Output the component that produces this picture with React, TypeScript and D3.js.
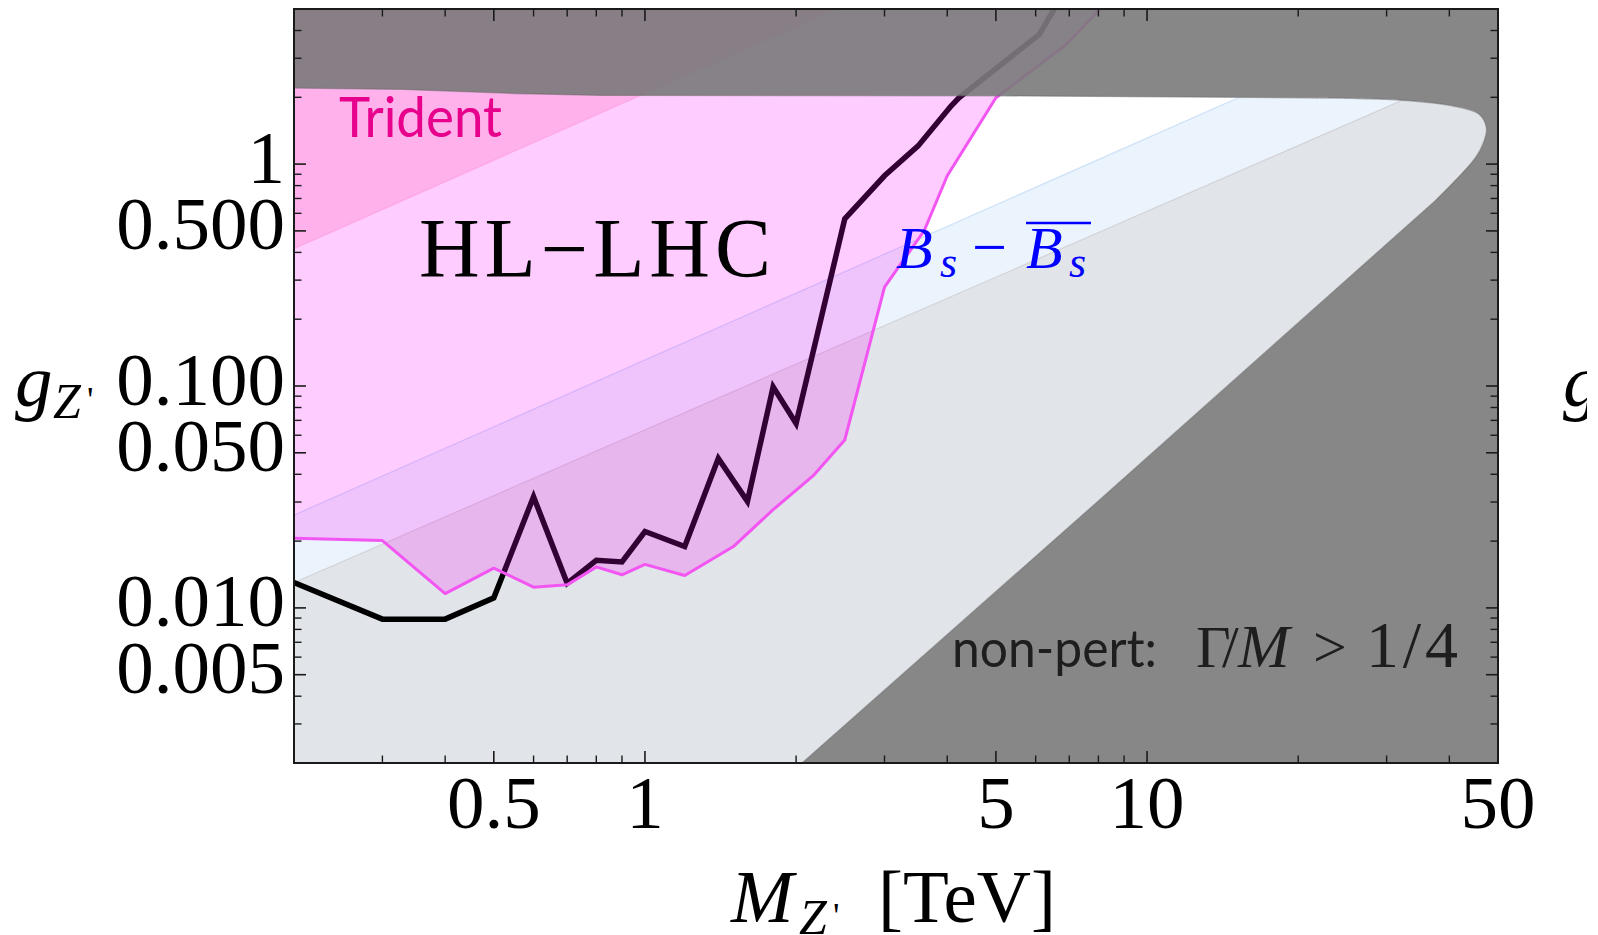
import React from "react";
import * as d3 from "d3";

// ---------- axes ----------
const X_DOMAIN: [number, number] = [0.2, 50];
const Y_DOMAIN: [number, number] = [0.002, 5];
const X_MAJOR_TICKS = [0.5, 1, 5, 10, 50];
const X_TICK_LABELS = ["0.5", "1", "5", "10", "50"];
const X_MINOR_TICKS = [0.3, 0.4, 0.6, 0.7, 0.8, 0.9, 2, 3, 4, 6, 7, 8, 9, 20, 30, 40];
const Y_MAJOR_TICKS = [0.005, 0.01, 0.05, 0.1, 0.5, 1];
const Y_TICK_LABELS = ["0.005", "0.010", "0.050", "0.100", "0.500", "1"];
const Y_MINOR_TICKS = [0.003, 0.004, 0.006, 0.007, 0.008, 0.009, 0.02, 0.03, 0.04, 0.06, 0.07, 0.08, 0.09, 0.2, 0.3, 0.4, 0.6, 0.7, 0.8, 0.9, 2, 3, 4];

// ---------- HL-LHC projected reach (black line) ----------
const HLLHC_M = [0.2, 0.3, 0.4, 0.5, 0.6, 0.7, 0.8, 0.9, 1.0, 1.2, 1.4, 1.6, 1.8, 2.0, 2.5, 3.0, 3.5, 4.07, 4.22, 6.1, 6.7];
const HLLHC_G = [0.013, 0.0089, 0.0089, 0.0111, 0.0317, 0.0129, 0.0164, 0.0161, 0.0221, 0.0189, 0.0472, 0.0302, 0.0991, 0.0678, 0.566, 0.886, 1.208, 1.828, 1.99, 3.84, 5.5];

// ---------- current LHC exclusion (magenta line, pink fill) ----------
const LHC_M = [0.2, 0.3, 0.4, 0.5, 0.6, 0.7, 0.8, 0.9, 1.0, 1.2, 1.5, 1.8, 2.17, 2.5, 3.0, 3.6, 4.0, 5.0, 6.9, 8.4];
const LHC_G = [0.0206, 0.0201, 0.0116, 0.0151, 0.0124, 0.0127, 0.0153, 0.0141, 0.0157, 0.014, 0.0189, 0.0277, 0.0397, 0.0571, 0.279, 0.502, 0.886, 1.99, 3.46, 5.5];

// ---------- Trident exclusion ----------
const TRIDENT_M = [0.2, 2.4];
const TRIDENT_G = [0.416, 5.0];

// ---------- Bs mixing band ----------
const BS_LOWER_M = [0.2, 40];
const BS_LOWER_G = [0.013, 2.4];
const BS_UPPER_M = [0.2, 40];
const BS_UPPER_G = [0.0262, 5.24];

// ---------- perturbativity boundary (Gamma/M = 1/4) ----------
const PERT_TOP_M = [0.15, 0.2, 0.33, 0.55, 0.82, 5.1, 20.3];
const PERT_TOP_G = [2.2, 2.2, 2.17, 2.08, 2.04, 2.03, 1.99];
const PERT_CAP_M = [20.3, 32.2, 40.5, 45.8, 47.4, 46.9, 45.1, 37.5];
const PERT_CAP_G = [1.99, 1.94, 1.83, 1.68, 1.46, 1.27, 1.07, 0.684];
const PERT_DIAG_M = [37.5, 8.11, 1.85];
const PERT_DIAG_G = [0.684, 0.0312, 0.00162];

const SERIF = "'Liberation Serif', 'Times New Roman', serif";
const SANS = "Lato, 'DejaVu Sans', sans-serif";

export default function App() {
  const W = 1598, H = 935;
  const left = 294, right = 1498, top = 9, bottom = 763;
  const x = d3.scaleLog().domain(X_DOMAIN).range([left, right]);
  const y = d3.scaleLog().domain(Y_DOMAIN).range([bottom, top]);
  const P = (ms: number[], gs: number[]) => ms.map((m, i) => [x(m), y(gs[i])] as [number, number]);
  const lin = d3.line();
  const smooth = d3.line().curve(d3.curveCatmullRom.alpha(0.5));
  const cont = (s: string | null) => (s || "").replace(/^M/, "L");

  const xl = left - 30, xr = right + 30, yt = top - 30, yb = bottom + 30;

  const hl = P(HLLHC_M, HLLHC_G);
  const lhc = P(LHC_M, LHC_G);
  const lhcFill = lin([...lhc, [lhc[lhc.length - 1][0], yt], [xl, yt], [xl, lhc[0][1]]]) + "Z";

  const tri = P(TRIDENT_M, TRIDENT_G);
  const triFill = lin([[xl, tri[0][1]], ...tri, [tri[1][0], yt], [xl, yt]]) + "Z";

  const bsU = P(BS_UPPER_M, BS_UPPER_G);
  const bsL = P(BS_LOWER_M, BS_LOWER_G);
  const blueFill = lin([[xl, bsU[0][1]], ...bsU, [xr, bsU[1][1]], [xr, yb], [xl, yb]]) + "Z";
  const grayFill = lin([[xl, bsL[0][1]], ...bsL, [xr, bsL[1][1]], [xr, yb], [xl, yb]]) + "Z";

  const topPts = P(PERT_TOP_M, PERT_TOP_G);
  const capPts = P(PERT_CAP_M, PERT_CAP_G);
  const diagPts = P(PERT_DIAG_M, PERT_DIAG_G);
  const edge = (lin(topPts) || "") + cont(smooth(capPts)) + cont(lin(diagPts));
  const tongue = edge + `L${topPts[0][0]},${diagPts[diagPts.length - 1][1]}Z`;
  const rectPath = `M${left},${top}H${right}V${bottom}H${left}Z`;

  const tickStroke = "#1a1a1a";
  const majorLen = 12, minorLen = 7.5;

  return (
    <svg width={W} height={H} style={{ position: "absolute", left: 0, top: 0, background: "#fff" }}>
      <defs>
        <clipPath id="plotClip">
          <rect x={left} y={top} width={right - left} height={bottom - top} />
        </clipPath>
        <clipPath id="tongueClip">
          <path d={tongue} />
        </clipPath>
        <clipPath id="pageClip">
          <rect x={0} y={0} width={1587} height={H} />
        </clipPath>
      </defs>
      <rect x={0} y={0} width={W} height={H} fill="#fff" />

      <g clipPath="url(#plotClip)">
        <g clipPath="url(#tongueClip)">
          <path d={blueFill} fill="#ebf4fc" />
          <path d={grayFill} fill="#e1e4e8" />
          <path d={lin(bsU) || ""} fill="none" stroke="rgba(175,205,245,0.55)" strokeWidth={1.2} />
          <path d={lin(bsL) || ""} fill="none" stroke="rgba(170,150,150,0.3)" strokeWidth={1.1} />
        </g>
        {/* HL-LHC black line */}
        <path d={lin(hl) || ""} fill="none" stroke="#000" strokeWidth={5.5} strokeLinejoin="miter" strokeMiterlimit={10} />
        {/* current LHC exclusion fill */}
        <path d={lhcFill} fill="#ff00ff" fillOpacity={0.2} />
        {/* Trident */}
        <path d={triFill} fill="rgb(255,80,170)" fillOpacity={0.22} />
        <path d={lin(tri) || ""} fill="none" stroke="rgba(255,120,195,0.35)" strokeWidth={1.1} />
        {/* magenta line */}
        <path d={lin(lhc) || ""} fill="none" stroke="#f255f2" strokeWidth={3} strokeLinejoin="round" />
        {/* non-perturbative region */}
        <path d={rectPath + tongue} fill="rgb(122,122,122)" fillOpacity={0.9} fillRule="evenodd" />
        <path d={edge} fill="none" stroke="rgba(100,100,100,0.45)" strokeWidth={1.3} />
      </g>

      {/* frame */}
      <rect x={left} y={top} width={right - left} height={bottom - top} fill="none" stroke={tickStroke} strokeWidth={2} />

      {/* x ticks */}
      {X_MAJOR_TICKS.map((v) => (
        <g key={"xM" + v}>
          <line x1={x(v)} x2={x(v)} y1={bottom} y2={bottom - majorLen} stroke={tickStroke} strokeWidth={1.6} />
          <line x1={x(v)} x2={x(v)} y1={top} y2={top + majorLen} stroke={tickStroke} strokeWidth={1.6} />
        </g>
      ))}
      {X_MINOR_TICKS.map((v) => (
        <g key={"xm" + v}>
          <line x1={x(v)} x2={x(v)} y1={bottom} y2={bottom - minorLen} stroke={tickStroke} strokeWidth={1.4} />
          <line x1={x(v)} x2={x(v)} y1={top} y2={top + minorLen} stroke={tickStroke} strokeWidth={1.4} />
        </g>
      ))}
      {/* y ticks */}
      {Y_MAJOR_TICKS.map((v) => (
        <g key={"yM" + v}>
          <line x1={left} x2={left + majorLen} y1={y(v)} y2={y(v)} stroke={tickStroke} strokeWidth={1.6} />
          <line x1={right} x2={right - majorLen} y1={y(v)} y2={y(v)} stroke={tickStroke} strokeWidth={1.6} />
        </g>
      ))}
      {Y_MINOR_TICKS.map((v) => (
        <g key={"ym" + v}>
          <line x1={left} x2={left + minorLen} y1={y(v)} y2={y(v)} stroke={tickStroke} strokeWidth={1.4} />
          <line x1={right} x2={right - minorLen} y1={y(v)} y2={y(v)} stroke={tickStroke} strokeWidth={1.4} />
        </g>
      ))}

      {/* tick labels */}
      {X_MAJOR_TICKS.map((v, i) => (
        <text key={"xl" + v} x={x(v)} y={828} textAnchor="middle" fontFamily={SERIF} fontSize={75} fill="#000">
          {X_TICK_LABELS[i]}
        </text>
      ))}
      {Y_MAJOR_TICKS.map((v, i) => (
        <text key={"yl" + v} x={left - 9} y={y(v) + 18.5} textAnchor="end" fontFamily={SERIF} fontSize={75} fill="#000">
          {Y_TICK_LABELS[i]}
        </text>
      ))}

      {/* axis titles */}
      <text x={15} y={406} fontFamily={SERIF} fontStyle="italic" fontSize={75} fill="#000">g</text>
      <text x={53} y={418} fontFamily={SERIF} fontStyle="italic" fontSize={50} fill="#000">Z</text>
      <text x={87} y={412} fontFamily={SERIF} fontSize={36} fill="#000">'</text>

      <text x={731} y={922} fontFamily={SERIF} fontStyle="italic" fontSize={75} fill="#000">M</text>
      <text x={799} y={934} fontFamily={SERIF} fontStyle="italic" fontSize={50} fill="#000">Z</text>
      <text x={833} y={928} fontFamily={SERIF} fontSize={36} fill="#000">'</text>
      <text x={878} y={922} fontFamily={SERIF} fontSize={75} fill="#000">[TeV]</text>

      {/* region labels */}
      <text x={339} y={137} fontFamily={SANS} fontSize={57} fill="rgb(230,0,140)" textLength={163} lengthAdjust="spacingAndGlyphs">Trident</text>
      <text x={419} y={277} fontFamily={SERIF} fontSize={84} fill="#000" textLength={352}>HL−LHC</text>

      <text x={896} y={268} fontFamily={SERIF} fontStyle="italic" fontSize={60} fill="#0000ff">B</text>
      <text x={940} y={277} fontFamily={SERIF} fontStyle="italic" fontSize={44} fill="#0000ff">s</text>
      <text x={972} y={268} fontFamily={SERIF} fontSize={62} fill="#0000ff">−</text>
      <text x={1026} y={268} fontFamily={SERIF} fontStyle="italic" fontSize={60} fill="#0000ff">B</text>
      <text x={1069} y={277} fontFamily={SERIF} fontStyle="italic" fontSize={44} fill="#0000ff">s</text>
      <line x1={1026} x2={1091} y1={223} y2={223} stroke="#0000ff" strokeWidth={2.5} />

      <text x={952} y={667} fontFamily={SANS} fontSize={53} fill="#1e1e1e" textLength={205} lengthAdjust="spacingAndGlyphs">non-pert:</text>
      <text x={1196} y={667} fontFamily={SERIF} fontSize={60} fill="#1e1e1e">Γ</text>
      <text x={1222} y={667} fontFamily={SERIF} fontSize={60} fill="#1e1e1e">/</text>
      <text x={1238} y={667} fontFamily={SERIF} fontStyle="italic" fontSize={62} fill="#1e1e1e">M</text>
      <text x={1313} y={667} fontFamily={SERIF} fontSize={60} fill="#1e1e1e">&gt;</text>
      <text x={1366} y={667} fontFamily={SERIF} fontSize={66} fill="#1e1e1e" textLength={92}>1/4</text>

      {/* next panel's axis label, cut by the edge */}
      <g clipPath="url(#pageClip)">
        <text x={1563} y={406} fontFamily={SERIF} fontStyle="italic" fontSize={75} fill="#000">g</text>
      </g>
    </svg>
  );
}
